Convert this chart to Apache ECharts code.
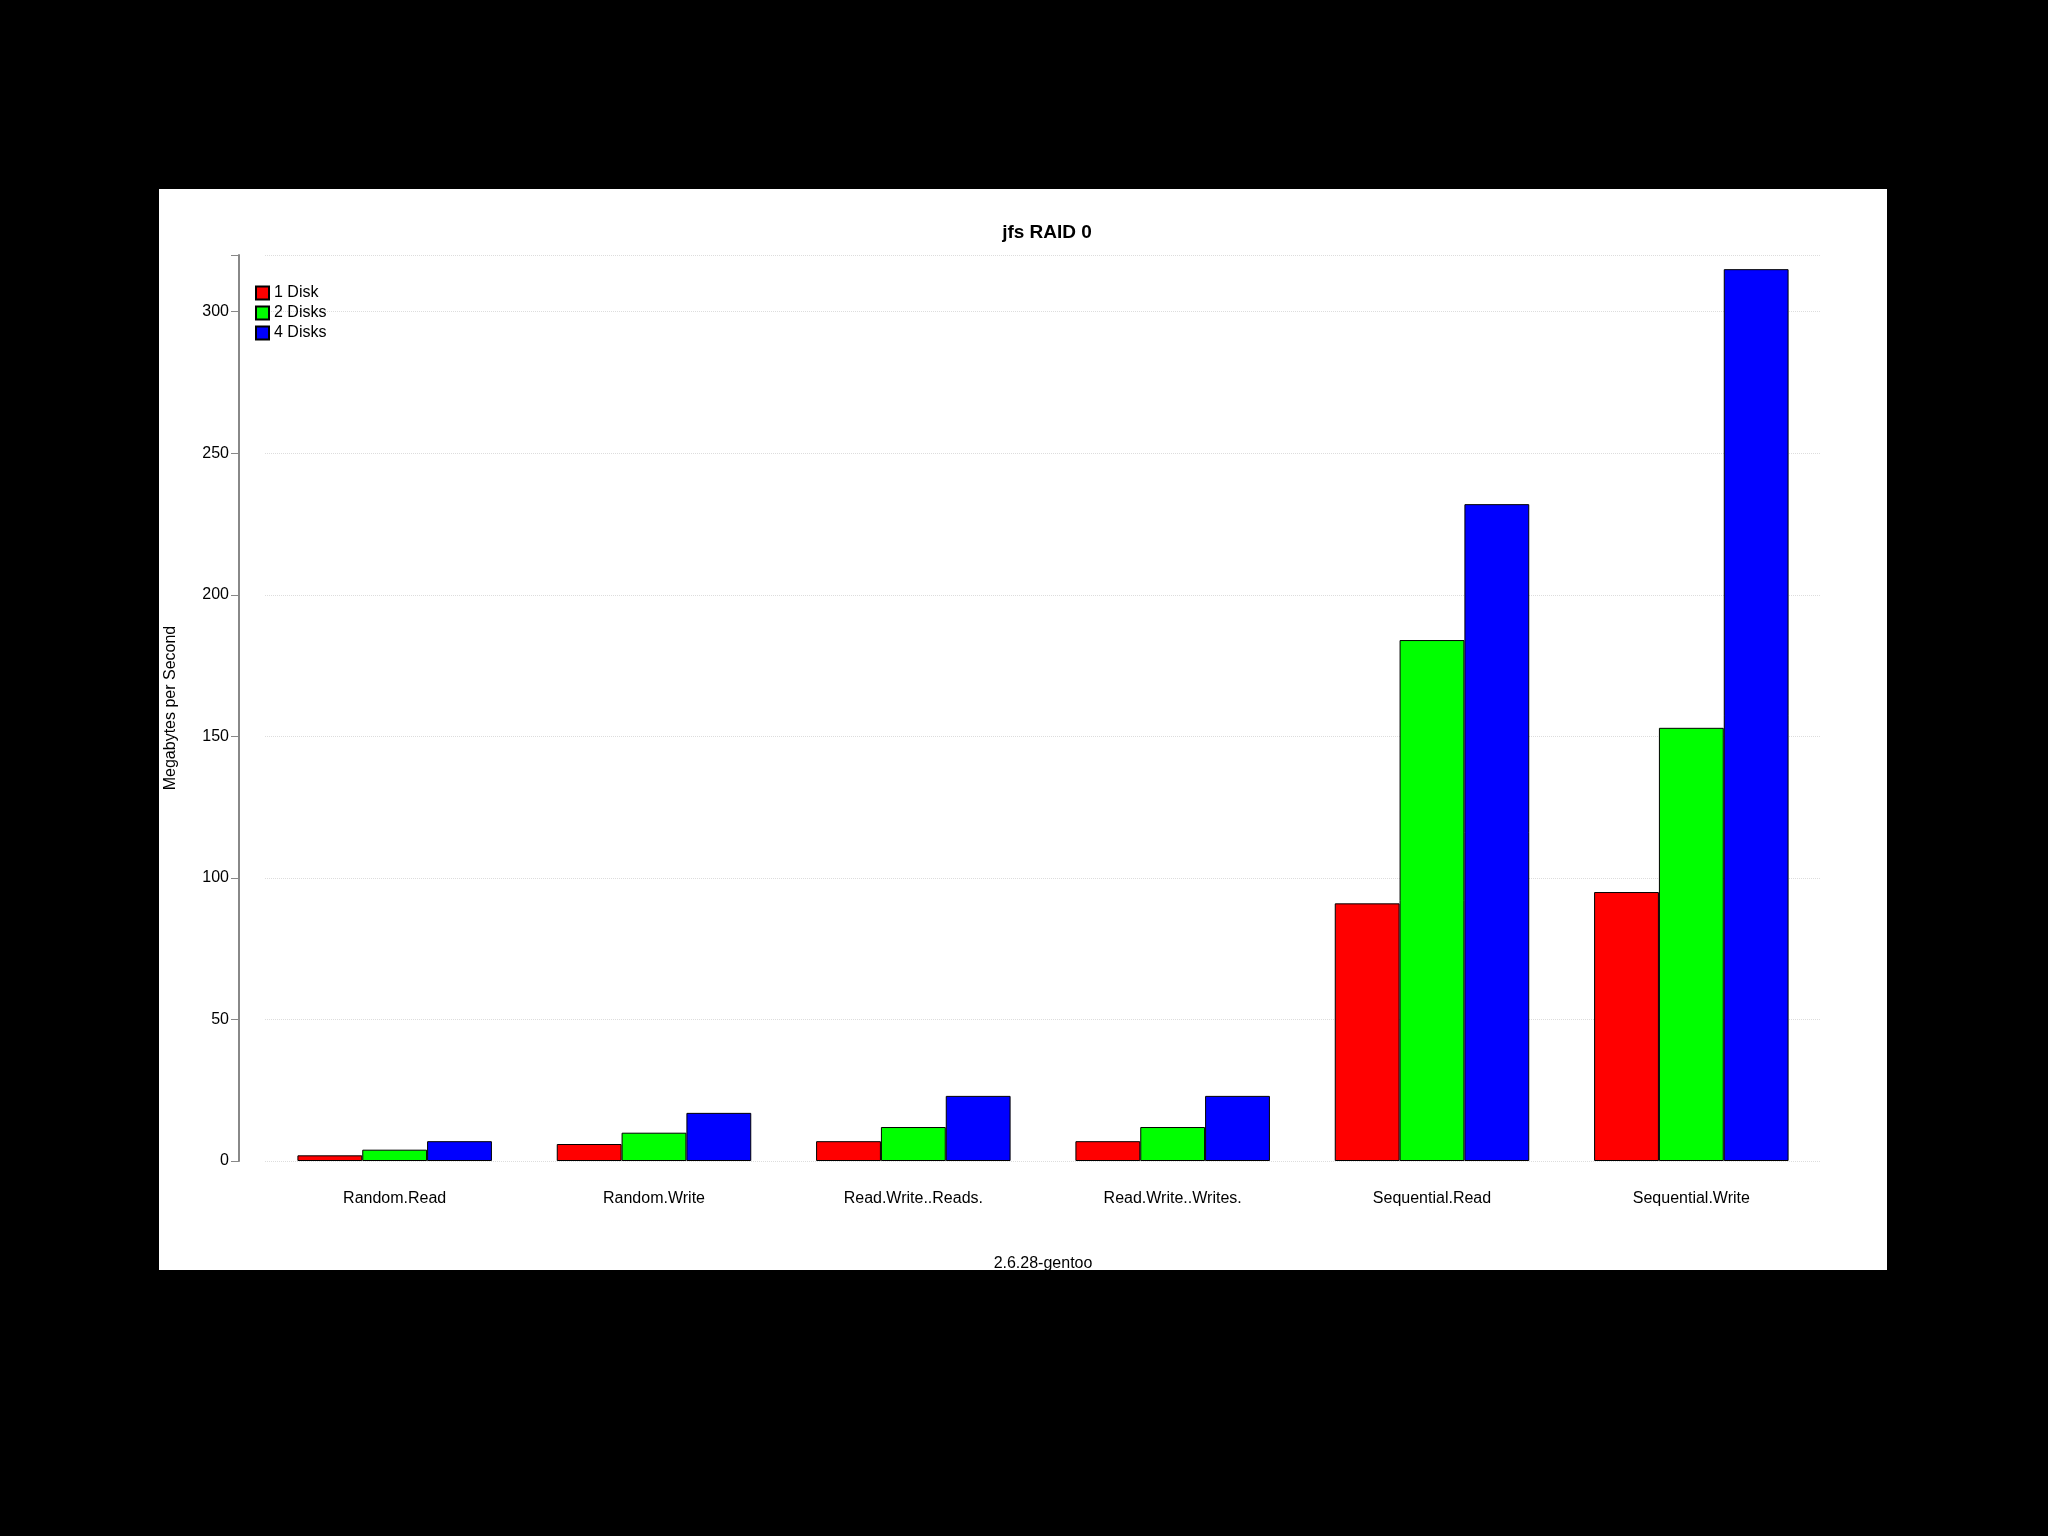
<!DOCTYPE html>
<html>
<head>
<meta charset="UTF-8">
<style>
  html, body { margin: 0; background: #000; }
  #chart { width: 2048px; height: 1536px; }
</style>
</head>
<body>
<div id="chart"></div>
<script src="https://cdn.jsdelivr.net/npm/echarts@6/dist/echarts.min.js"></script>
<script>
var categories = ['Random.Read', 'Random.Write', 'Read.Write..Reads.', 'Read.Write..Writes.', 'Sequential.Read', 'Sequential.Write'];
var disk1 = [2, 6, 7, 7, 91, 95];
var disk2 = [4, 10, 12, 12, 184, 153];
var disk4 = [7, 17, 23, 23, 232, 315];
var yTicks = [0, 50, 100, 150, 200, 250, 300];

var chart = echarts.init(document.getElementById('chart'));
var barStyle = function (c) { return { color: c, borderColor: '#000', borderWidth: 1 }; };
chart.setOption({
  backgroundColor: '#000',
  textStyle: { fontFamily: 'Liberation Sans, Arial', color: '#000' },
  graphic: [{ type: 'rect', z: -10, shape: { x: 159, y: 189, width: 1728, height: 1081 }, style: { fill: '#fff' } }],
  title: {
    text: 'jfs RAID 0', left: 1042, top: 218, textAlign: 'center',
    textStyle: { fontSize: 19, fontWeight: 'bold', color: '#000' }
  },
  legend: {
    left: 250, top: 280, orient: 'vertical', itemGap: 4, itemWidth: 13, itemHeight: 13,
    textStyle: { fontSize: 16, color: '#000' }, icon: 'rect',
    data: ['1 Disk', '2 Disks', '4 Disks']
  },
  grid: { left: 265, top: 255, width: 1556, height: 906 },
  xAxis: {
    type: 'category', data: categories,
    name: '2.6.28-gentoo', nameLocation: 'middle', nameGap: 95,
    nameTextStyle: { fontSize: 16, color: '#000' },
    axisLine: { show: false }, axisTick: { show: false },
    axisLabel: { fontSize: 16, color: '#000', margin: 30 }
  },
  yAxis: {
    type: 'value', min: 0, max: 320, interval: 50, offset: 26,
    name: 'Megabytes per Second', nameLocation: 'middle', nameGap: 60, nameRotate: 90,
    nameTextStyle: { fontSize: 16, color: '#000' },
    axisLine: { show: true, lineStyle: { color: '#888', width: 2 } },
    axisTick: { show: true, length: 8, lineStyle: { color: '#888' } },
    axisLabel: { fontSize: 16, color: '#000', margin: 10,
      formatter: function (v) { return yTicks.indexOf(v) >= 0 ? v : ''; } },
    splitLine: { show: true, lineStyle: { color: '#ddd', type: 'dotted' } }
  },
  series: [
    { name: '1 Disk', type: 'bar', data: disk1, barGap: '0%', barCategoryGap: '25%', itemStyle: barStyle('#ff0000') },
    { name: '2 Disks', type: 'bar', data: disk2, itemStyle: barStyle('#00ff00') },
    { name: '4 Disks', type: 'bar', data: disk4, itemStyle: barStyle('#0000ff') }
  ]
});
</script>
</body>
</html>
